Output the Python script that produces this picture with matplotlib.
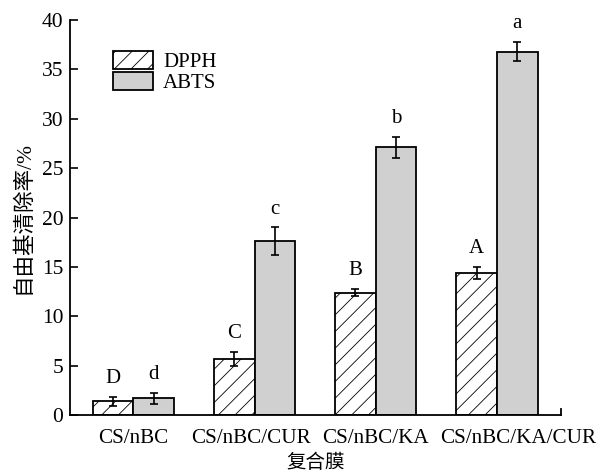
import numpy as np
import matplotlib
matplotlib.use("Agg")
import matplotlib.pyplot as plt
import matplotlib.transforms as mtransforms
from matplotlib.patches import Patch

plt.rcParams["font.family"] = ["Liberation Serif", "Noto Sans CJK SC"]
plt.rcParams["hatch.linewidth"] = 0.6
plt.rcParams["hatch.color"] = "#666666"

CATEGORIES = ["CS/nBC", "CS/nBC/CUR", "CS/nBC/KA", "CS/nBC/KA/CUR"]
DPPH       = [1.4, 5.7, 12.4, 14.4]
DPPH_ERR   = [0.45, 0.7, 0.35, 0.6]
ABTS       = [1.7, 17.6, 27.1, 36.8]
ABTS_ERR   = [0.55, 1.4, 1.05, 0.95]
DPPH_SIG   = ["D", "C", "B", "A"]
ABTS_SIG   = ["d", "c", "b", "a"]

fig = plt.figure(figsize=(6.12, 4.74), dpi=100)
ax = fig.add_axes([0.115, 0.124, 0.802, 0.834])

x = np.arange(len(CATEGORIES))
w = 0.335

ax.bar(x - w / 2, DPPH, w, color="white", edgecolor="black", linewidth=1.3,
       hatch="//")
ax.bar(x + w / 2, ABTS, w, color="#d0d0d0", edgecolor="black", linewidth=1.3)
ax.errorbar(x - w / 2, DPPH, yerr=DPPH_ERR, fmt="none", ecolor="black",
            elinewidth=1.2, capsize=3, capthick=1.2)
ax.errorbar(x + w / 2, ABTS, yerr=ABTS_ERR, fmt="none", ecolor="black",
            elinewidth=1.2, capsize=3, capthick=1.2)

# significance letters
for i in range(len(CATEGORIES)):
    ax.text(x[i] - w / 2, DPPH[i] + DPPH_ERR[i] + 0.9, DPPH_SIG[i],
            ha="center", va="bottom", fontsize=15)
    ax.text(x[i] + w / 2, ABTS[i] + ABTS_ERR[i] + 0.9, ABTS_SIG[i],
            ha="center", va="bottom", fontsize=15)

ax.set_xlim(-0.52, 3.53)
ax.set_ylim(0, 40)
ax.set_yticks(range(0, 41, 5))
ax.set_xticks(x)
ax.set_xticklabels(CATEGORIES)
ax.tick_params(axis="y", direction="in", length=6, width=1.2, labelsize=15.5,
               pad=5)
ax.tick_params(axis="x", length=0, labelsize=15.2, pad=10)

# nudge tick labels sideways so the long ones do not collide
shifts_px = [0, -4, 0, 21]
for lbl, dx in zip(ax.get_xticklabels(), shifts_px):
    off = mtransforms.ScaledTranslation(dx / 100, 0, fig.dpi_scale_trans)
    lbl.set_transform(lbl.get_transform() + off)

ax.spines["top"].set_visible(False)
ax.spines["right"].set_visible(False)
ax.spines["left"].set_linewidth(1.3)
ax.spines["bottom"].set_linewidth(1.3)
# small end tick on the right of the x axis
ax.plot([1, 1], [0, 0.015], transform=ax.transAxes, color="black",
        linewidth=1.3, clip_on=False)

ax.set_xlabel("复合膜", fontsize=14, labelpad=4)
ax.set_ylabel("自由基清除率/%", fontsize=15.5, labelpad=6)

handles = [Patch(facecolor="white", edgecolor="black", hatch="//", linewidth=1.3),
           Patch(facecolor="#d0d0d0", edgecolor="black", linewidth=1.3)]
ax.legend(handles, ["DPPH", "ABTS"], loc="upper left",
          bbox_to_anchor=(0.087, 0.922), frameon=False, fontsize=15,
          handlelength=1.9, handleheight=0.95, labelspacing=0.0,
          handletextpad=0.5, borderaxespad=0, borderpad=0)

fig.savefig("out.png", dpi=100)
